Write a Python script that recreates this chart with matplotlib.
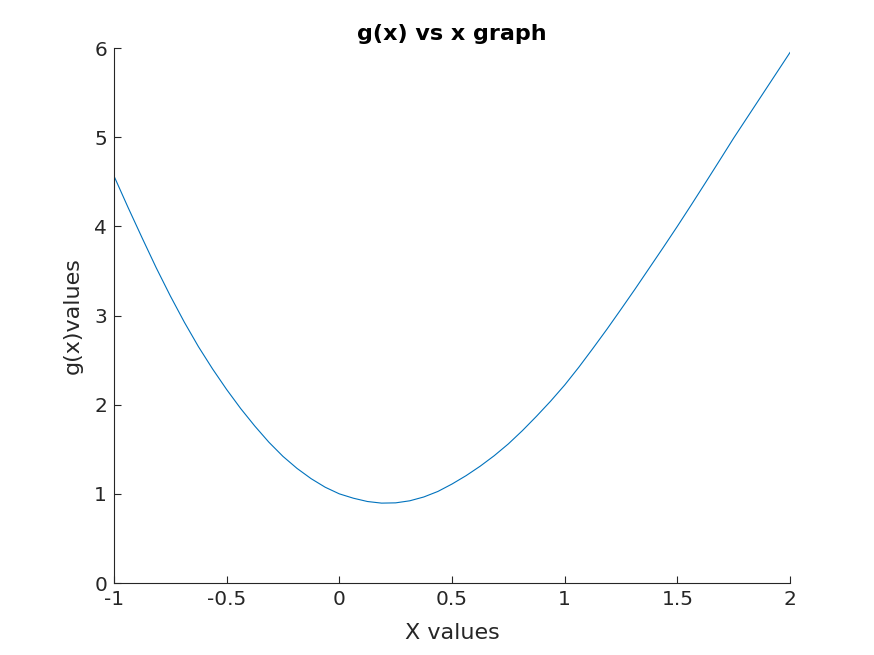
import matplotlib
matplotlib.use('Agg')
import matplotlib.pyplot as plt

# values (step 0.0625)
x_vals = [-1.0, -0.9375, -0.875, -0.8125, -0.75, -0.6875, -0.625, -0.5625,
          -0.5, -0.4375, -0.375, -0.3125, -0.25, -0.1875, -0.125, -0.0625,
          0.0, 0.0625, 0.125, 0.1875, 0.25, 0.3125, 0.375, 0.4375,
          0.5, 0.5625, 0.625, 0.6875, 0.75, 0.8125, 0.875, 0.9375,
          1.0, 1.0625, 1.125, 1.1875, 1.25, 1.3125, 1.375, 1.4375,
          1.5, 1.5625, 1.625, 1.6875, 1.75, 1.8125, 1.875, 1.9375, 2.0]
g_vals = [4.565, 4.212, 3.87, 3.535, 3.22, 2.924, 2.65, 2.401,
          2.17, 1.956, 1.76, 1.579, 1.42, 1.285, 1.17, 1.074,
          1.0, 0.951, 0.914, 0.896, 0.899, 0.922, 0.965, 1.027,
          1.11, 1.204, 1.31, 1.428, 1.56, 1.709, 1.87, 2.039,
          2.22, 2.419, 2.63, 2.846, 3.07, 3.297, 3.53, 3.763,
          4.0, 4.243, 4.49, 4.739, 4.99, 5.23, 5.47, 5.71, 5.95]
x_ticks = [-1, -0.5, 0, 0.5, 1, 1.5, 2]
x_tick_labels = ['-1', '-0.5', '0', '0.5', '1', '1.5', '2']
y_ticks = [0, 1, 2, 3, 4, 5, 6]

txt = '#262626'

fig = plt.figure(figsize=(8.74, 6.55), dpi=100)
ax = fig.add_axes([0.1304, 0.1099, 0.7735, 0.8168])
ax.plot(x_vals, g_vals, color='#0072BD', linewidth=0.8)

ax.set_xlim(-1, 2)
ax.set_ylim(0, 6)
ax.set_xticks(x_ticks)
ax.set_xticklabels(x_tick_labels)
ax.set_yticks(y_ticks)

ax.spines['top'].set_visible(False)
ax.spines['right'].set_visible(False)
for s in ['left', 'bottom']:
    ax.spines[s].set_color(txt)
    ax.spines[s].set_linewidth(0.8)
ax.tick_params(direction='in', length=5, width=0.8, colors=txt, labelsize=14.5, pad=5)

ax.set_title('g(x) vs x graph', fontsize=16, fontweight='bold', color='black', pad=6)
ax.set_xlabel('X values', fontsize=16, color=txt, labelpad=10)
ax.set_ylabel('g(x)values', fontsize=16, color=txt, labelpad=8)

fig.savefig('out.png', dpi=100)
